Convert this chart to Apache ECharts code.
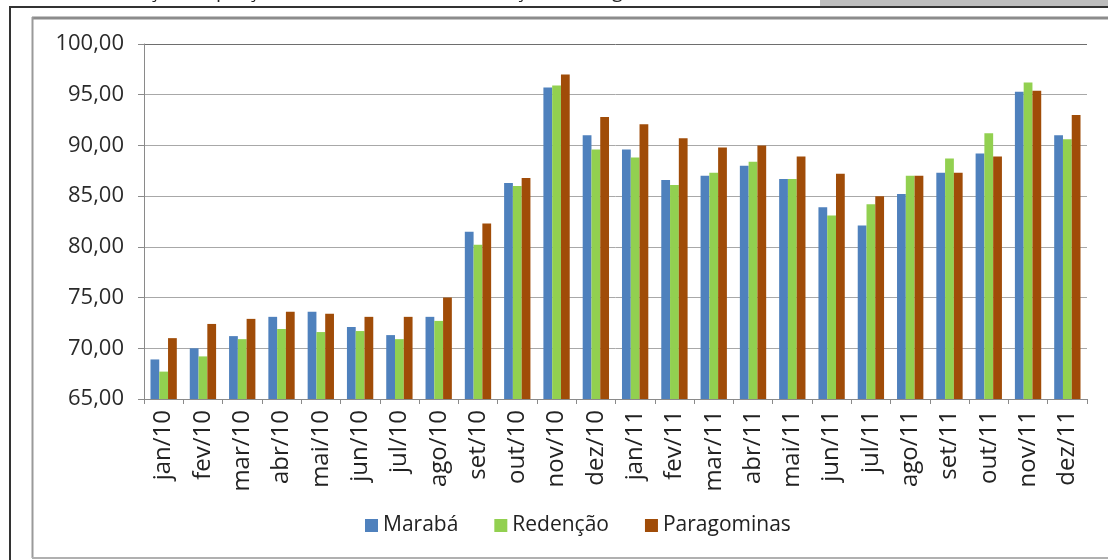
<!DOCTYPE html>
<html>
<head>
<meta charset="utf-8">
<script src="https://cdn.jsdelivr.net/npm/echarts@6/dist/echarts.min.js"></script>
<style>
  html, body { margin: 0; padding: 0; background: #ffffff; }
  #chart { width: 1108px; height: 560px; }
</style>
</head>
<body>
<div id="chart"></div>
<script>
// Monthly series, Jan/2010 – Dec/2011
const months = ['jan/10','fev/10','mar/10','abr/10','mai/10','jun/10','jul/10','ago/10','set/10','out/10','nov/10','dez/10',
                'jan/11','fev/11','mar/11','abr/11','mai/11','jun/11','jul/11','ago/11','set/11','out/11','nov/11','dez/11'];
const seriesNames = ['Marabá', 'Redenção', 'Paragominas'];
const maraba      = [68.9, 70.0, 71.2, 73.1, 73.6, 72.1, 71.3, 73.1, 81.5, 86.3, 95.7, 91.0,
                     89.6, 86.6, 87.0, 88.0, 86.7, 83.9, 82.1, 85.2, 87.3, 89.2, 95.3, 91.0];
const redencao    = [67.7, 69.2, 70.9, 71.9, 71.6, 71.7, 70.9, 72.7, 80.2, 86.0, 95.9, 89.6,
                     88.8, 86.1, 87.3, 88.4, 86.7, 83.1, 84.2, 87.0, 88.7, 91.2, 96.2, 90.6];
const paragominas = [71.0, 72.4, 72.9, 73.6, 73.4, 73.1, 73.1, 75.0, 82.3, 86.8, 97.0, 92.8,
                     92.1, 90.7, 89.8, 90.0, 88.9, 87.2, 85.0, 87.0, 87.3, 88.9, 95.4, 93.0];
const yTicks = { min: 65, max: 100, step: 5 };
const captionText = 'Gráfico 3 – Evolução do preço médio em Marabá, Redenção e Paragominas, 2010-2011, em R$, a preços de';

const colors = ['#4F81BD', '#92D050', '#A04C08'];
const FONT = '"Open Sans", Lato, sans-serif';

const chart = echarts.init(document.getElementById('chart'), null, { renderer: 'canvas' });

const fmt = v => v.toFixed(2).replace('.', ',');

const option = {
  animation: false,
  backgroundColor: '#ffffff',
  color: colors,
  grid: { left: 144, right: 21, top: 44, bottom: 161, containLabel: false },
  legend: {
    data: seriesNames,
    left: 360,
    top: 510,
    icon: 'rect',
    itemWidth: 13,
    itemHeight: 13,
    itemGap: 36,
    textStyle: { fontFamily: FONT, fontSize: 21, color: '#222' }
  },
  xAxis: {
    type: 'category',
    data: months,
    axisLine: { lineStyle: { color: '#8a8a8a', width: 1 } },
    axisTick: { show: true, length: 5, alignWithLabel: false, lineStyle: { color: '#8a8a8a' } },
    axisLabel: {
      rotate: 90,
      interval: 0,
      margin: 11,
      fontFamily: FONT,
      fontSize: 24,
      color: '#222'
    }
  },
  yAxis: {
    type: 'value',
    min: yTicks.min,
    max: yTicks.max,
    interval: yTicks.step,
    axisLine: { show: true, lineStyle: { color: '#8a8a8a', width: 1 } },
    axisTick: { show: true, length: 6, lineStyle: { color: '#8a8a8a' } },
    axisLabel: {
      margin: 20,
      fontFamily: FONT,
      fontSize: 22,
      color: '#2a2a2a',
      formatter: fmt
    },
    splitLine: {
      show: true,
      lineStyle: {
        color: ['#a8a8a8', '#a8a8a8', '#a8a8a8', '#a8a8a8', '#a8a8a8', '#a8a8a8', '#a8a8a8', '#6e6e6e'],
        width: 1
      }
    }
  },
  series: [
    { name: seriesNames[0], type: 'bar', data: maraba,      barGap: '0%', barCategoryGap: '33%' },
    { name: seriesNames[1], type: 'bar', data: redencao,    barGap: '0%', barCategoryGap: '33%' },
    { name: seriesNames[2], type: 'bar', data: paragominas, barGap: '0%', barCategoryGap: '33%' }
  ],
  graphic: [
    // caption line above the chart box, mostly cut off by the page edge
    { type: 'text', left: -6, top: -19, style: { text: captionText, font: '20px ' + FONT, fill: '#222' }, silent: true },
    // page strip above the chart box
    { type: 'rect', shape: { x: 820, y: 0, width: 288, height: 6 }, style: { fill: '#bdbdbd' }, silent: true },
    // outer frame
    { type: 'line', shape: { x1: 9, y1: 7, x2: 1108, y2: 7 }, style: { stroke: '#333', lineWidth: 2 }, silent: true },
    { type: 'line', shape: { x1: 10, y1: 7, x2: 10, y2: 560 }, style: { stroke: '#333', lineWidth: 2 }, silent: true },
    // inner chart-area frame
    { type: 'line', shape: { x1: 32, y1: 18, x2: 1108, y2: 18 }, style: { stroke: '#8c8c8c', lineWidth: 3 }, silent: true },
    { type: 'line', shape: { x1: 32.5, y1: 17, x2: 32.5, y2: 558 }, style: { stroke: '#9a9a9a', lineWidth: 2 }, silent: true },
    { type: 'line', shape: { x1: 32, y1: 558, x2: 1108, y2: 558 }, style: { stroke: '#b0b0b0', lineWidth: 2 }, silent: true }
  ]
};

chart.setOption(option);
</script>
</body>
</html>
